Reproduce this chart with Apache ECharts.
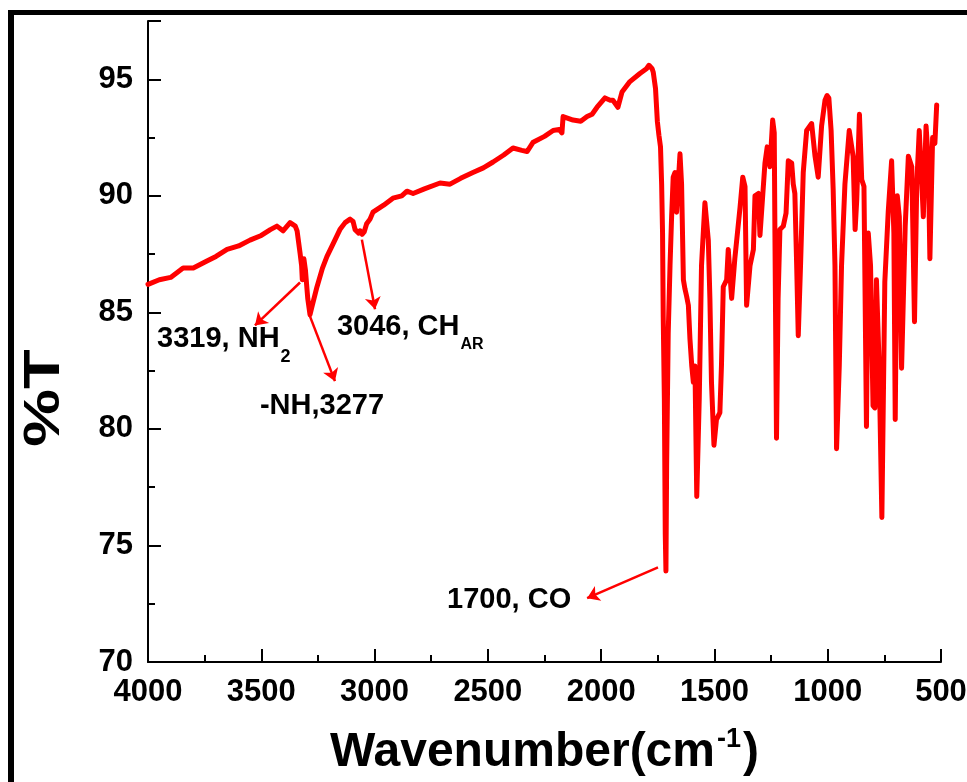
<!DOCTYPE html>
<html>
<head>
<meta charset="utf-8">
<script src="https://cdn.jsdelivr.net/npm/echarts@6/dist/echarts.min.js"></script>
<style>
html,body{margin:0;padding:0;background:#fff;}
#chart{width:967px;height:782px;}
</style>
</head>
<body>
<div id="chart"></div>
<script>
// ---- data ----
const wavenumbers = [
 4000,3950,3900,3845,3800,3740,3700,3651,3600,3550,3500,3460,3431,3404,3373,3350,3342,3329,3322,3319,3312,3305,3295,3285,3275,3254,3230,3210,3180,3153,3130,3108,3095,3086,3070,3064,3055,3046,3035,3020,3007,2960,2919,2880,2857,2830,2780,2711,2667,2620,2566,2520,2477,2430,2389,2350,2327,2300,2250,2212,2185,2173,2168,2124,2090,2062,2040,2018,1983,1960,1948,1926,1908,1873,1829,1800,1789,1775,1770,1760,1752,1745,1738,1733,1729,1726,1721,1717,1714,1711,1704,1696,1689,1682,1674,1667,1660,1652,1645,1637,1630,1623,1615,1608,1600,1593,1586,1578,1567,1557,1542,1527,1520,1513,1502,1491,1476,1469,1461,1446,1439,1424,1410,1387,1375,1365,1358,1343,1328,1321,1306,1299,1287,1277,1267,1255,1243,1236,1233,1226,1219,1211,1196,1184,1174,1159,1152,1145,1137,1130,1120,1108,1093,1071,1056,1042,1027,1012,1003,995,985,976,968,961,949,939,924,905,888,879,872,860,850,840,829,821,811,800,792,785,773,761,748,733,718,708,702,693,684,674,658,644,629,617,607,596,586,578,566,556,549,537,527,519
];
const transmittance = [
 86.2,86.4,86.5,86.9,86.9,87.2,87.4,87.7,87.85,88.1,88.3,88.55,88.7,88.5,88.85,88.7,88.5,87.55,87.0,86.4,87.3,86.8,85.6,84.9,85.3,86.1,86.9,87.4,88.0,88.55,88.85,89.0,88.9,88.55,88.4,88.5,88.35,88.45,88.8,89.0,89.3,89.6,89.9,90.0,90.2,90.1,90.3,90.55,90.5,90.75,91.0,91.2,91.45,91.75,92.05,91.95,91.9,92.3,92.55,92.8,92.85,92.7,93.4,93.25,93.2,93.4,93.5,93.8,94.2,94.1,94.1,93.8,94.45,94.9,95.25,95.45,95.6,95.45,95.3,94.6,93.2,92.6,92.1,90.5,88.4,84.8,81.3,75.5,73.9,78.4,84.1,87.0,89.1,90.8,91.0,89.3,90.5,91.8,90.5,86.4,86.0,85.7,85.3,83.85,82.7,82.0,82.7,77.1,81.3,87.0,89.7,88.1,85.6,82.0,79.3,80.4,80.7,82.7,86.1,86.4,87.7,85.6,87.3,89.5,90.8,90.4,85.3,87.0,87.7,90.0,90.1,88.3,90.0,91.4,92.1,91.25,93.25,92.7,88.4,79.6,85.6,88.55,88.7,89.25,91.5,91.4,90.5,90.1,87.0,84.0,87.0,91.0,92.8,93.1,91.7,90.8,93.0,94.1,94.3,94.2,92.8,90.3,87.0,79.15,82.7,87.0,90.5,92.8,91.7,88.55,89.8,93.5,90.7,90.4,80.1,88.4,87.0,81.0,80.9,86.4,82.7,76.2,86.3,89.3,91.5,88.4,80.4,90.0,89.1,82.6,88.7,91.7,91.25,84.6,90.5,92.8,90.8,89.1,93.0,91.5,87.3,92.5,92.25,93.9
];
const xTicks = [4000,3500,3000,2500,2000,1500,1000,500];
const yTicks = [70,75,80,85,90,95];
const annotationTexts = ['{a|3319, NH}{s|2}', '{a|-NH,3277}', '{a|3046, CH}{s2|AR}', '{a|1700, CO}'];

const seriesData = wavenumbers.map((w, i) => [w, transmittance[i]]);

const FONT = 'Liberation Sans, Arial, sans-serif';
const RED = '#ff0000';

const chart = echarts.init(document.getElementById('chart'), null, {renderer: 'canvas'});

const axisCommon = {
  axisLine: {show: true, onZero: false, lineStyle: {color: '#000', width: 2}},
  axisTick: {show: true, inside: true, length: 13, lineStyle: {color: '#000', width: 2}},
  minorTick: {show: true, splitNumber: 2, length: 7, lineStyle: {color: '#000', width: 2}},
  splitLine: {show: false},
  minorSplitLine: {show: false}
};

chart.setOption({
  animation: false,
  backgroundColor: '#fff',
  grid: {left: 148, right: 26, top: 21, bottom: 120, containLabel: false, outerBoundsMode: 'none'},
  xAxis: Object.assign({
    type: 'value',
    min: xTicks[xTicks.length - 1],
    max: xTicks[0],
    interval: 500,
    inverse: true,
    name: '{a|Wavenumber(cm}{sup|-1}{a|)}',
    nameLocation: 'middle',
    nameGap: 66,
    nameTextStyle: {
      rich: {
        a: {fontFamily: FONT, fontWeight: 'bold', fontSize: 48, color: '#000', lineHeight: 50, padding: [0, 0, 0, 0]},
        sup: {fontFamily: FONT, fontWeight: 'bold', fontSize: 27, color: '#000', lineHeight: 27, padding: [0, 2, 26, 2]}
      }
    },
    axisLabel: {color: '#000', fontFamily: FONT, fontWeight: 'bold', fontSize: 31, margin: 15,
      formatter: (v) => String(v)}
  }, axisCommon),
  yAxis: Object.assign({
    type: 'value',
    min: yTicks[0],
    max: 97.5,
    interval: 5,
    axisLabel: {color: '#000', fontFamily: FONT, fontWeight: 'bold', fontSize: 31, margin: 15, showMaxLabel: false,
      formatter: (v) => String(v)}
  }, axisCommon),
  graphic: [
    {type: 'rect', shape: {x: 8, y: 10, width: 959, height: 5}, style: {fill: '#000'}, silent: true},
    {type: 'rect', shape: {x: 8, y: 10, width: 6, height: 772}, style: {fill: '#000'}, silent: true},
    {type: 'text', x: 45, y: 398, rotation: Math.PI / 2, scaleX: 1.3,
      style: {text: '%T', fontFamily: FONT, fontWeight: 'bold', fontSize: 50, fill: '#000', align: 'center', verticalAlign: 'middle'}}
  ],
  series: [{
    type: 'line',
    data: seriesData,
    showSymbol: false,
    symbol: 'none',
    smooth: false,
    lineStyle: {color: RED, width: 5, join: 'round', cap: 'round'},
    itemStyle: {color: RED},
    markLine: {
      silent: true,
      symbol: ['none', 'arrow'],
      symbolSize: [12, 12],
      label: {show: false},
      lineStyle: {color: RED, width: 2.5, type: 'solid'},
      data: [
        [{coord: [3329, 86.28]}, {coord: [3528, 84.44]}],
        [{coord: [3285, 84.83]}, {coord: [3175, 82.05]}],
        [{coord: [3056, 88.12]}, {coord: [2998, 85.13]}],
        [{coord: [1749, 74.06]}, {coord: [2062, 72.74]}]
      ]
    },
    markPoint: {
      silent: true,
      symbol: 'circle',
      symbolSize: 0,
      itemStyle: {color: 'transparent'},
      label: {
        show: true,
        position: 'right',
        distance: 0,
        color: '#000',
        rich: {
          a: {fontFamily: FONT, fontWeight: 'bold', fontSize: 29, color: '#000', lineHeight: 30},
          s: {fontFamily: FONT, fontWeight: 'bold', fontSize: 18, color: '#000', lineHeight: 18, padding: [36, 0, 0, 1]},
          s2: {fontFamily: FONT, fontWeight: 'bold', fontSize: 16, color: '#000', lineHeight: 16, padding: [34, 0, 0, 1]}
        }
      },
      data: [
        {coord: [3960, 83.85], label: {formatter: annotationTexts[0]}},
        {coord: [3506, 80.98], label: {formatter: annotationTexts[1]}},
        {coord: [3166, 84.36], label: {formatter: annotationTexts[2]}},
        {coord: [2680, 72.65], label: {formatter: annotationTexts[3]}}
      ]
    }
  }]
});
</script>
</body>
</html>
